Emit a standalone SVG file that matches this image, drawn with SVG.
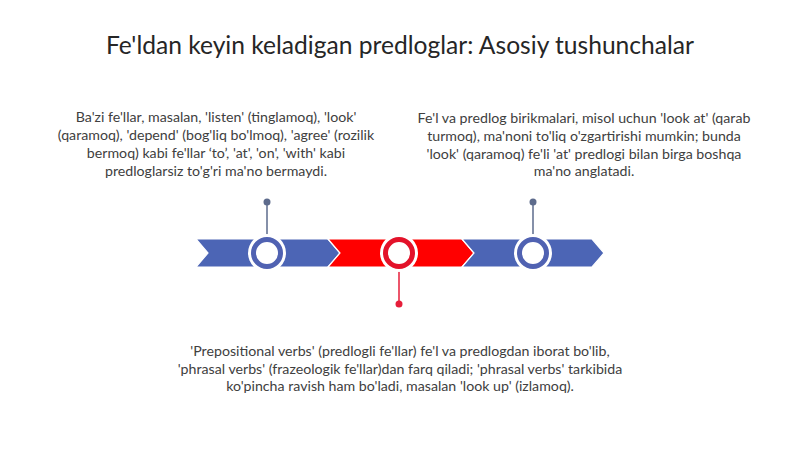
<svg xmlns="http://www.w3.org/2000/svg" width="800" height="449" viewBox="0 0 800 449">
<style>
.t{font-family:Lato,"Liberation Sans",sans-serif;font-size:14.2px;fill:#404040;text-anchor:middle}
.title{font-family:Lato,"Liberation Sans",sans-serif;font-size:24.6px;fill:#262626;text-anchor:middle}
.seg{stroke:#ffffff;stroke-width:1.2}
.blue{fill:#4C65B5}
.red{fill:#FF0000}
.halo{fill:#ffffff}
.ringb{fill:#ffffff;stroke:#5062B2;stroke-width:5}
.ringr{fill:#ffffff;stroke:#E3122A;stroke-width:5}
.stemb{stroke:#5D6B8C;stroke-width:1.5}
.stemr{stroke:#E61E3A;stroke-width:1.5}
</style>
<rect width="800" height="449" fill="#ffffff"/>
<text class="title" x="400" y="54">Fe'ldan keyin keladigan predloglar: Asosiy tushunchalar</text>
<g id="connectors">
<line class="stemb" x1="267" y1="202" x2="267" y2="240"/>
<circle cx="267" cy="202" r="3.5" fill="#5D6B8C"/>
<line class="stemr" x1="399" y1="266" x2="399" y2="304"/>
<circle cx="399" cy="304" r="3.5" fill="#E61E3A"/>
<line class="stemb" x1="533" y1="202" x2="533" y2="240"/>
<circle cx="533" cy="202" r="3.5" fill="#5D6B8C"/>
</g>
<g id="timeline">
<polygon class="seg blue" points="196,239 328,239 340,253 328,267 196,267 208,253"/>
<polygon class="seg red" points="328,239 462,239 474,253 462,267 328,267 340,253"/>
<polygon class="seg blue" points="462,239 592,239 604,253 592,267 462,267 474,253"/>
</g>
<g id="node1">
<circle class="halo" cx="267" cy="253" r="19"/>
<circle class="ringb" cx="267" cy="253" r="13.5"/>
<text class="t" x="216" y="122">Ba'zi fe'llar, masalan, 'listen' (tinglamoq), 'look'</text>
<text class="t" x="216" y="140">(qaramoq), 'depend' (bog'liq bo'lmoq), 'agree' (rozilik</text>
<text class="t" x="216" y="158">bermoq) kabi fe'llar ‘to’, 'at', 'on', 'with' kabi</text>
<text class="t" x="216" y="176">predloglarsiz to'g'ri ma'no bermaydi.</text>
</g>
<g id="node2">
<circle class="halo" cx="399" cy="253" r="19"/>
<circle class="ringr" cx="399" cy="253" r="13.5"/>
<text class="t" x="400" y="356">'Prepositional verbs' (predlogli fe'llar) fe'l va predlogdan iborat bo'lib,</text>
<text class="t" x="400" y="373.5">'phrasal verbs' (frazeologik fe'llar)dan farq qiladi; 'phrasal verbs' tarkibida</text>
<text class="t" x="400" y="391">ko'pincha ravish ham bo'ladi, masalan 'look up' (izlamoq).</text>
</g>
<g id="node3">
<circle class="halo" cx="533" cy="253" r="19"/>
<circle class="ringb" cx="533" cy="253" r="13.5"/>
<text class="t" x="584" y="123">Fe'l va predlog birikmalari, misol uchun 'look at' (qarab</text>
<text class="t" x="584" y="141">turmoq), ma'noni to'liq o'zgartirishi mumkin; bunda</text>
<text class="t" x="584" y="158.5">'look' (qaramoq) fe'li 'at' predlogi bilan birga boshqa</text>
<text class="t" x="584" y="176">ma'no anglatadi.</text>
</g>
</svg>
